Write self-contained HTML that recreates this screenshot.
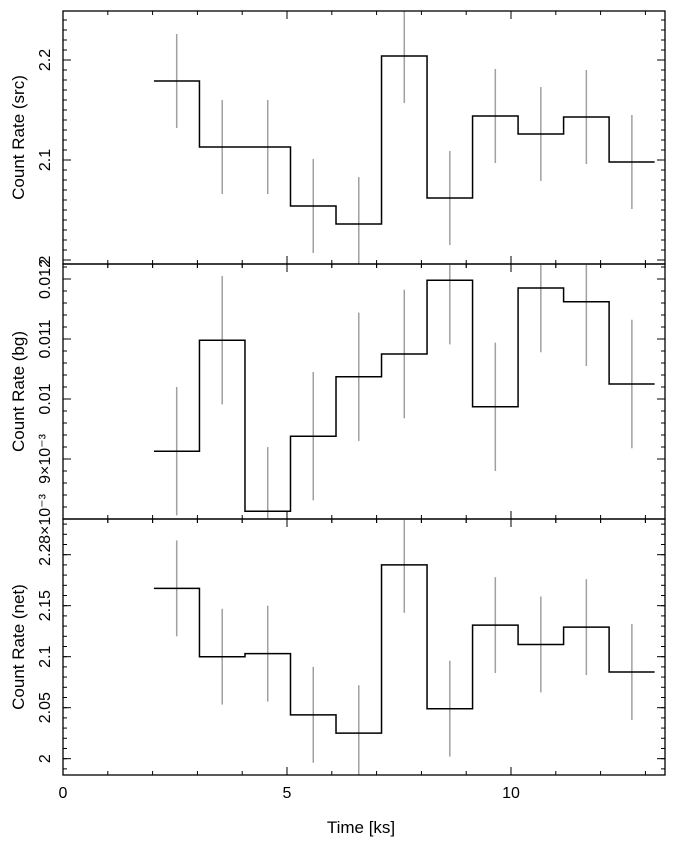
<!DOCTYPE html>
<html><head><meta charset="utf-8"><style>
body{margin:0;background:#fff}
svg{display:block;font-family:"Liberation Sans",sans-serif}
</style></head><body>
<svg id="c" width="676" height="845" xmlns="http://www.w3.org/2000/svg"></svg>
<script>
const binStarts=[2.03,3.046,4.062,5.078,6.094,7.11,8.126,9.142,10.158,11.174,12.19];
const binWidth=1.016;
const srcVals=[2.179,2.113,2.113,2.054,2.036,2.204,2.062,2.144,2.126,2.143,2.098];
const srcErr=[0.047,0.047,0.047,0.047,0.047,0.047,0.047,0.047,0.047,0.047,0.047];
const bgVals=[0.00913,0.01098,0.00813,0.00938,0.01037,0.01075,0.01198,0.00987,0.01185,0.01162,0.01025];
const bgErr=[0.00107,0.00107,0.00107,0.00107,0.00107,0.00107,0.00107,0.00107,0.00107,0.00107,0.00107];
const netVals=[2.167,2.1,2.103,2.043,2.025,2.19,2.049,2.131,2.112,2.129,2.085];
const netErr=[0.047,0.047,0.047,0.047,0.047,0.047,0.047,0.047,0.047,0.047,0.047];
const xTicks=[0,5,10];
const srcTicks=[2,2.1,2.2], srcTickLabels=["2","2.1","2.2"];
const bgTicks=[0.008,0.009,0.01,0.011,0.012], bgTickLabels=["8×10⁻³","9×10⁻³","0.01","0.011","0.012"];
const netTicks=[2,2.05,2.1,2.15,2.2], netTickLabels=["2","2.05","2.1","2.15","2.2"];

const svg=document.getElementById('c');
const NS='http://www.w3.org/2000/svg';
function mk(t,a,txt){const e=document.createElementNS(NS,t);for(const k in a)e.setAttribute(k,a[k]);if(txt!==undefined)e.textContent=txt;svg.appendChild(e);return e;}
const L=63,R=665;
const X=v=>L+v*44.8;
const panels=[
 {name:'src',top:11,bot:264,y0:1.996,y1:2.249,vals:srcVals,err:srcErr,ticks:srcTicks,labels:srcTickLabels,minor:0.01,title:'Count Rate (src)'},
 {name:'bg',top:264,bot:519,y0:0.008,y1:0.01225,vals:bgVals,err:bgErr,ticks:bgTicks,labels:bgTickLabels,minor:0.0002,title:'Count Rate (bg)'},
 {name:'net',top:519,bot:775,y0:1.984,y1:2.235,vals:netVals,err:netErr,ticks:netTicks,labels:netTickLabels,minor:0.01,title:'Count Rate (net)'}
];
panels.forEach(p=>{
 const Y=v=>p.bot-(v-p.y0)/(p.y1-p.y0)*(p.bot-p.top);
 const cid='clip-'+p.name;
 const cp=mk('clipPath',{id:cid});svg.removeChild(cp);
 const r=document.createElementNS(NS,'rect');r.setAttribute('x',L);r.setAttribute('y',p.top);r.setAttribute('width',R-L);r.setAttribute('height',p.bot-p.top);cp.appendChild(r);svg.appendChild(cp);
 // error bars
 p.vals.forEach((v,i)=>{
  const cx=X(binStarts[i]+binWidth/2);
  const e=mk('line',{x1:cx,x2:cx,y1:Y(v-p.err[i]),y2:Y(v+p.err[i]),stroke:'#a0a0a0','stroke-width':1.5,'clip-path':'url(#'+cid+')'});
  
  
 });
 // step line
 let d='';
 p.vals.forEach((v,i)=>{const xa=X(binStarts[i]),xb=X(binStarts[i]+binWidth);d+=(i?'L':'M')+xa+','+Y(v)+'L'+xb+','+Y(v);});
 const s=mk('path',{d:d,fill:'none',stroke:'#000','stroke-width':1.5,'clip-path':'url(#'+cid+')'});
 
 
 // frame
 const f=mk('rect',{x:L,y:p.top,width:R-L,height:p.bot-p.top,fill:'none',stroke:'#000','stroke-width':1.3});
 
 
 // y ticks
 for(let v=Math.ceil(p.y0/p.minor)*p.minor;v<=p.y1;v+=p.minor){const y=Y(v);mk('line',{x1:L,x2:L+4,y1:y,y2:y,stroke:'#000'});mk('line',{x1:R,x2:R-4,y1:y,y2:y,stroke:'#000'});}
 p.ticks.forEach((v,i)=>{const y=Y(v);mk('line',{x1:L,x2:L+8,y1:y,y2:y,stroke:'#000'});mk('line',{x1:R,x2:R-8,y1:y,y2:y,stroke:'#000'});
  const t=mk('text',{x:50,y:y,'font-size':16,'text-anchor':'middle',transform:'rotate(-90 50 '+y+')'},p.labels[i]);
  
  });
 // x ticks
 for(let k=0;k<=13;k++){const x=X(k),len=(k%5==0)?8:4;mk('line',{x1:x,x2:x,y1:p.bot-len,y2:p.bot+(p.name!=='net'?len:0),stroke:'#000'});mk('line',{x1:x,x2:x,y1:p.top,y2:p.top+len,stroke:'#000'});}
 const cy=(p.top+p.bot)/2;
 const tt=mk('text',{x:24,y:cy,'font-size':17,'text-anchor':'middle',transform:'rotate(-90 24 '+cy+')'},p.title);
 
 
});
xTicks.forEach(v=>{const t=mk('text',{x:X(v),y:798,'font-size':16,'text-anchor':'middle'},String(v));
 
 });
const xt=mk('text',{x:361,y:833,'font-size':17,'text-anchor':'middle'},'Time [ks]');


</script>
</body></html>
